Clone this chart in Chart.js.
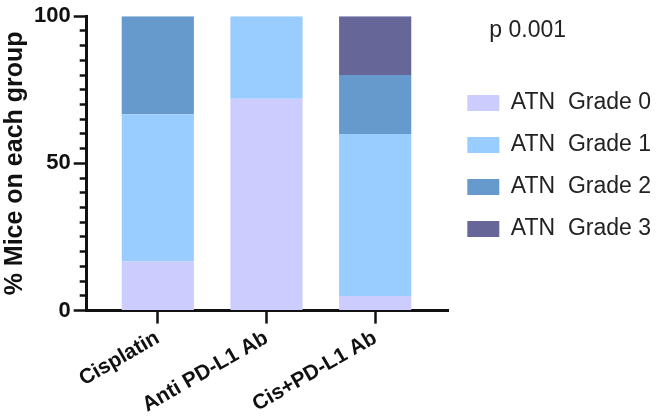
<!DOCTYPE html>
<html>
<head>
<meta charset="utf-8">
<script src="https://cdn.jsdelivr.net/npm/chart.js@4"></script>
<style>
  html, body { margin: 0; padding: 0; background: #fff; }
  #wrap { width: 669px; height: 420px; }
</style>
</head>
<body>
<div id="wrap"><canvas id="chart" width="669" height="420"></canvas></div>
<script>
// groups on the x axis
const groups = ['Cisplatin', 'Anti PD-L1 Ab', 'Cis+PD-L1 Ab'];
const grades = ['ATN  Grade 0', 'ATN  Grade 1', 'ATN  Grade 2', 'ATN  Grade 3'];

// % of mice per grade, one value per group
const grade0 = [16.7, 72, 5];
const grade1 = [50, 28, 55];
const grade2 = [33.3, 0, 20];
const grade3 = [0, 0, 20];

const yTicks = [0, 50, 100];
const pValue = 'p 0.001';

const colors = ['#ccccff', '#99ccff', '#6699cc', '#666699'];
const font = 'Liberation Sans, Arial, Helvetica, sans-serif';

const series = [grade0, grade1, grade2, grade3];
const datasets = series.map(function (vals, i) {
    return {
        label: grades[i],
        data: vals.map((v, j) => ({ x: j + 1, y: v })),
        backgroundColor: colors[i],
        borderWidth: 0,
        barPercentage: 1,
        categoryPercentage: 0.664
    };
});

// p value written above the legend
const pValuePlugin = {
    id: 'pValue',
    afterDraw: function (chart) {
        const lg = chart.legend;
        const ctx = chart.ctx;
        ctx.save();
        ctx.fillStyle = '#222';
        ctx.font = '23px ' + font;
        ctx.textAlign = 'left';
        ctx.textBaseline = 'middle';
        ctx.fillText(pValue, lg.left + 41, lg.top + 31);
        ctx.restore();
    }
};

new Chart(document.getElementById('chart'), {
    type: 'bar',
    data: { datasets: datasets },
    plugins: [pValuePlugin],
    options: {
        responsive: false,
        animation: false,
        layout: { padding: { top: 0, left: 0, right: 8, bottom: 0 } },
        plugins: {
            tooltip: { enabled: false },
            legend: {
                position: 'right',
                align: 'start',
                maxWidth: 260,
                title: {
                    display: true,
                    text: '',
                    font: { family: font, size: 22 },
                    padding: { top: 20, bottom: 26 }
                },
                labels: {
                    boxWidth: 32,
                    boxHeight: 16,
                    padding: 19,
                    color: '#222',
                    font: { family: font, size: 23 }
                }
            }
        },
        scales: {
            x: {
                type: 'linear',
                stacked: true,
                offset: false,
                min: 0.346,
                max: 3.673,
                afterBuildTicks: function (axis) {
                    axis.ticks = groups.map((g, i) => ({ value: i + 1 }));
                },
                border: { display: true, width: 3, color: '#111' },
                grid: {
                    offset: false,
                    drawOnChartArea: false,
                    drawTicks: true,
                    tickLength: 13,
                    tickWidth: 2.5,
                    tickColor: '#111'
                },
                ticks: {
                    autoSkip: false,
                    minRotation: 30,
                    maxRotation: 30,
                    padding: 2,
                    color: '#111',
                    font: { family: font, size: 21, weight: 'bold' },
                    callback: function (v) { return groups[v - 1] || ''; }
                }
            },
            y: {
                stacked: true,
                min: 0,
                max: 100,
                border: { display: true, width: 3, color: '#111' },
                grid: {
                    drawOnChartArea: false,
                    drawTicks: true,
                    tickLength: 13,
                    tickWidth: 2.5,
                    tickColor: '#111',
                    tickBorderDash: function (ctx) {
                        return yTicks.includes(ctx.tick.value) ? [] : [0, 6, 7, 30];
                    }
                },
                ticks: {
                    stepSize: 5,
                    autoSkip: false,
                    padding: 3,
                    color: '#111',
                    font: { family: font, size: 22, weight: 'bold' },
                    callback: function (v) { return yTicks.includes(v) ? v : ''; }
                },
                title: {
                    display: true,
                    text: '% Mice on each group',
                    color: '#111',
                    font: { family: font, size: 25, weight: 'bold' },
                    padding: { top: 0, bottom: 1 }
                }
            }
        }
    }
});
</script>
</body>
</html>
